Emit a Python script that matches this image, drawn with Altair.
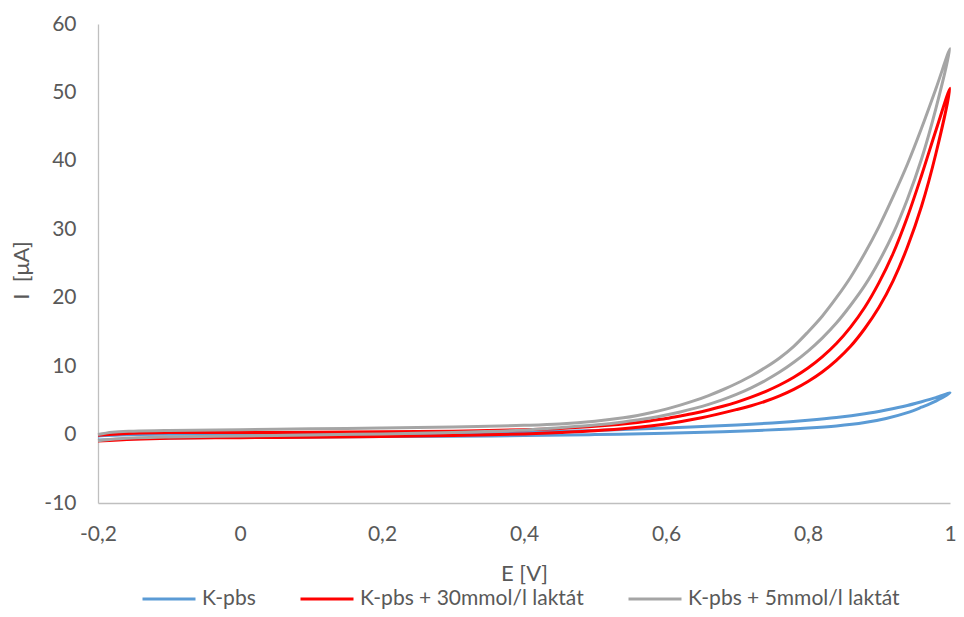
import altair as alt
import pandas as pd

SERIES = ["K-pbs", "K-pbs + 30mmol/l laktát", "K-pbs + 5mmol/l laktát"]
COLORS = ["#5B9BD5", "#FF0000", "#A5A5A5"]

X_TICKS = [-0.2, 0, 0.2, 0.4, 0.6, 0.8, 1]
Y_TICKS = [-10, 0, 10, 20, 30, 40, 50, 60]

# K-pbs : forward scan (-0.2 -> 1.0) then reverse scan (1.0 -> -0.2)
KPBS_E = [-0.2, -0.15, -0.1, 0.0, 0.1, 0.2, 0.3, 0.4, 0.5, 0.6, 0.68, 0.74, 0.8, 0.84, 0.88, 0.91, 0.94, 0.96, 0.98, 1.0,
          0.98, 0.96, 0.94, 0.91, 0.88, 0.84, 0.8, 0.75, 0.7, 0.6, 0.5, 0.4, 0.3, 0.2, 0.1, 0.0, -0.1, -0.15, -0.2]
KPBS_I = [-0.8, -0.6, -0.5, -0.42, -0.36, -0.3, -0.25, -0.15, 0.0, 0.2, 0.42, 0.65, 0.95, 1.25, 1.75, 2.35, 3.2, 4.0, 4.9, 6.1,
          5.4, 4.8, 4.25, 3.6, 3.05, 2.5, 2.1, 1.7, 1.4, 0.95, 0.6, 0.35, 0.2, 0.12, 0.1, 0.1, 0.05, 0.0, -0.2]

# K-pbs + 30 mmol/l laktát
RED_E = [-0.2, -0.15, -0.1, 0.0, 0.1, 0.2, 0.3, 0.4, 0.45, 0.5, 0.55, 0.6, 0.65, 0.7, 0.72, 0.74, 0.76, 0.78, 0.8,
         0.82, 0.84, 0.86, 0.88, 0.9, 0.92, 0.94, 0.96, 0.98, 1.0,
         0.98, 0.96, 0.94, 0.92, 0.9, 0.88, 0.86, 0.84, 0.82, 0.8, 0.78, 0.76, 0.74, 0.72, 0.7, 0.68, 0.66, 0.64,
         0.62, 0.6, 0.58, 0.56, 0.5, 0.45, 0.4, 0.3, 0.2, 0.1, 0.0, -0.1, -0.15, -0.2]
RED_I = [-0.95, -0.7, -0.55, -0.45, -0.38, -0.3, -0.15, 0.1, 0.3, 0.55, 0.95, 1.55, 2.45, 3.67, 4.22, 4.87, 5.66, 6.61,
         7.76, 9.15, 10.85, 12.9, 15.5, 18.6, 22.5, 27.4, 33.4, 41.0, 50.6,
         44.4, 37.9, 31.8, 26.5, 22.2, 18.6, 15.7, 13.3, 11.35, 9.72, 8.37, 7.24, 6.29, 5.47, 4.75, 4.13, 3.59, 3.12,
         2.72, 2.35, 2.05, 1.78, 1.2, 0.9, 0.7, 0.5, 0.4, 0.35, 0.3, 0.3, 0.2, -0.1]

# K-pbs + 5 mmol/l laktát
GRAY_E = [-0.2, -0.17, -0.1, 0.0, 0.1, 0.2, 0.3, 0.4, 0.45, 0.5, 0.54, 0.56, 0.58, 0.6, 0.62, 0.64, 0.66, 0.68,
          0.7, 0.72, 0.74, 0.76, 0.78, 0.8, 0.82, 0.84, 0.86, 0.88, 0.9, 0.92, 0.94, 0.96, 0.98, 1.0,
          0.98, 0.96, 0.94, 0.92, 0.9, 0.88, 0.86, 0.84, 0.82, 0.8, 0.78, 0.76, 0.74, 0.72, 0.7, 0.68, 0.66, 0.64,
          0.62, 0.6, 0.58, 0.56, 0.54, 0.5, 0.45, 0.4, 0.3, 0.2, 0.1, 0.0, -0.1, -0.15, -0.18, -0.2]
GRAY_I = [-0.9, -0.6, -0.35, -0.2, -0.05, 0.1, 0.3, 0.65, 1.0, 1.4, 1.85, 2.14, 2.47, 2.86, 3.31, 3.83, 4.42, 5.11,
          5.91, 6.83, 7.9, 9.13, 10.56, 12.2, 14.1, 16.3, 18.9, 21.8, 25.3, 29.4, 34.4, 40.3, 47.6, 56.4,
          50.5, 44.8, 39.5, 34.8, 30.4, 26.5, 23.0, 20.0, 17.3, 15.0, 12.9, 11.2, 9.8, 8.56, 7.5, 6.55, 5.7, 4.95,
          4.3, 3.72, 3.22, 2.8, 2.45, 1.95, 1.55, 1.35, 1.1, 0.95, 0.85, 0.7, 0.6, 0.5, 0.35, 0.0]

rows = []
for name, es, vals in [(SERIES[0], KPBS_E, KPBS_I), (SERIES[1], RED_E, RED_I), (SERIES[2], GRAY_E, GRAY_I)]:
    for k, (e, v) in enumerate(zip(es, vals)):
        rows.append({"series": name, "E": e, "I": v, "idx": k})
df = pd.DataFrame(rows)

FONT = "Lato"
TXT = "#595959"
AXC = "#BFBFBF"

chart = alt.Chart(df).mark_line(strokeWidth=3, interpolate="catmull-rom").encode(
    x=alt.X("E:Q",
            scale=alt.Scale(domain=[-0.2, 1], nice=False, zero=False),
            axis=alt.Axis(values=X_TICKS, labelExpr="replace(toString(datum.value), '.', ',')",
                          grid=False, ticks=False, domainColor=AXC, domainWidth=1.3,
                          labelFont=FONT, labelFontSize=21, labelColor=TXT, labelPadding=31,
                          labelBaseline="middle", labelFlush=False, labelOverlap=False,
                          title="E [V]", titleFont=FONT, titleFontSize=22, titleFontWeight="normal",
                          titleColor=TXT, titleX=426, titleY=70, titleAlign="center",
                          titleBaseline="middle")),
    y=alt.Y("I:Q",
            scale=alt.Scale(domain=[-10, 60], nice=False, zero=False),
            axis=alt.Axis(values=Y_TICKS, labelExpr="toString(datum.value)",
                          grid=False, ticks=False, domainColor=AXC, domainWidth=1.3,
                          labelFont=FONT, labelFontSize=21, labelColor=TXT, labelPadding=22,
                          labelFlush=False, labelOverlap=False,
                          title="I\u00a0\u00a0[μA]", titleFont=FONT, titleFontSize=22, titleFontWeight="normal",
                          titleColor=TXT, titleX=-77, titleY=246, titleAngle=270, titleAlign="center",
                          titleBaseline="middle")),
    color=alt.Color("series:N",
                    scale=alt.Scale(domain=SERIES, range=COLORS),
                    legend=alt.Legend(title=None, orient="none", legendX=43, legendY=547,
                                      direction="horizontal", columns=3, symbolType="stroke",
                                      symbolSize=2809, symbolStrokeWidth=3, labelFont=FONT,
                                      labelFontSize=21, labelColor=TXT, columnPadding=38,
                                      labelOffset=5, labelLimit=0)),
    order=alt.Order("idx:Q"),
).properties(
    width=852, height=479,
    autosize=alt.AutoSizeParams(type="none"),
    padding={"left": 90, "top": 16, "right": 6, "bottom": 106},
).configure_view(stroke=None)

chart.save("out.html", embed_options={"renderer": "svg", "actions": False})
